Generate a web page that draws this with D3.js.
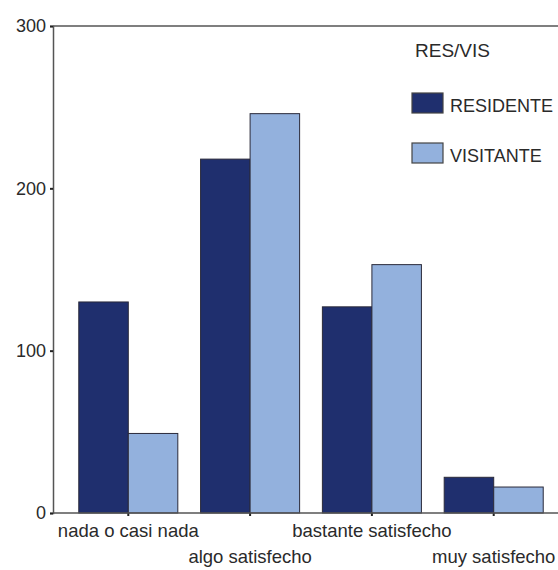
<!DOCTYPE html>
<html>
<head>
<meta charset="utf-8">
<script src="https://cdn.jsdelivr.net/npm/d3@7"></script>
<style>
  html, body { margin: 0; padding: 0; background: #ffffff; }
  svg { display: block; }
  text { font-family: "Liberation Sans", Arial, sans-serif; fill: #2a2a2a; }
</style>
</head>
<body>
<script>
const categories = ["nada o casi nada", "algo satisfecho", "bastante satisfecho", "muy satisfecho"];
const seriesNames = ["RESIDENTE", "VISITANTE"];
const residente = [130, 218, 127, 22];
const visitante = [49, 246, 153, 16];
const yTicks = [0, 100, 200, 300];
const legendTitle = "RES/VIS";
const colors = ["#1f2f6e", "#93b1dd"];

const W = 558, H = 570;
const svg = d3.select("body").append("svg").attr("width", W).attr("height", H);

const x = d3.scaleBand().domain(categories).range([56, 566]).paddingInner(0.187).paddingOuter(0.187);
const xs = d3.scaleBand().domain(seriesNames).range([0, x.bandwidth()]);
const y = d3.scaleLinear().domain([0, 300]).range([513, 26]);

const axisColor = "#555";
const fontFam = "Liberation Sans, Arial, sans-serif";

// frame top
svg.append("line").attr("x1", 53).attr("x2", W).attr("y1", y(300)).attr("y2", y(300))
  .attr("stroke", axisColor).attr("stroke-width", 1.5);

// bars
const data = categories.map((c, i) => ({ c, vals: [residente[i], visitante[i]] }));
const g = svg.append("g");
data.forEach(d => {
  d.vals.forEach((v, j) => {
    g.append("rect")
      .attr("x", x(d.c) + xs(seriesNames[j]))
      .attr("y", y(v))
      .attr("width", xs.bandwidth())
      .attr("height", y(0) - y(v))
      .attr("fill", colors[j])
      .attr("stroke", "#2a2a3a")
      .attr("stroke-width", 1);
  });
});

// y axis
const yAxis = svg.append("g").attr("transform", "translate(53,0)")
  .call(d3.axisLeft(y).tickValues(yTicks).tickSize(3).tickPadding(4));
yAxis.select(".domain").attr("stroke", axisColor).attr("stroke-width", 1.5);
yAxis.selectAll(".tick line").attr("stroke", "#222").attr("stroke-width", 2);
yAxis.selectAll(".tick text").style("font-size", "18px").attr("font-family", fontFam).attr("fill", "#2a2a2a");

// x axis
const xAxis = svg.append("g").attr("transform", `translate(0,${y(0)})`)
  .call(d3.axisBottom(x).tickSize(3).tickPadding(0));
xAxis.select(".domain").remove();
svg.append("line").attr("x1", 53).attr("x2", W).attr("y1", y(0)).attr("y2", y(0))
  .attr("stroke", axisColor).attr("stroke-width", 1.5);
xAxis.selectAll(".tick line").attr("stroke", "#222").attr("stroke-width", 2);
xAxis.selectAll(".tick text")
  .style("font-size", "18.5px")
  .attr("font-family", fontFam)
  .attr("fill", "#2a2a2a")
  .attr("dy", null)
  .attr("y", (d, i) => i % 2 === 0 ? 24 : 50);

// legend
const lg = svg.append("g");
lg.append("text").attr("x", 415).attr("y", 57).text(legendTitle).style("font-size", "19px");
seriesNames.forEach((s, i) => {
  const yy = 93 + i * 50;
  lg.append("rect").attr("x", 412).attr("y", yy).attr("width", 31).attr("height", 20)
    .attr("fill", colors[i]).attr("stroke", "#444").attr("stroke-width", 1.2);
  lg.append("text").attr("x", 450).attr("y", yy + 19).text(s).style("font-size", "18px");
});
</script>
</body>
</html>
